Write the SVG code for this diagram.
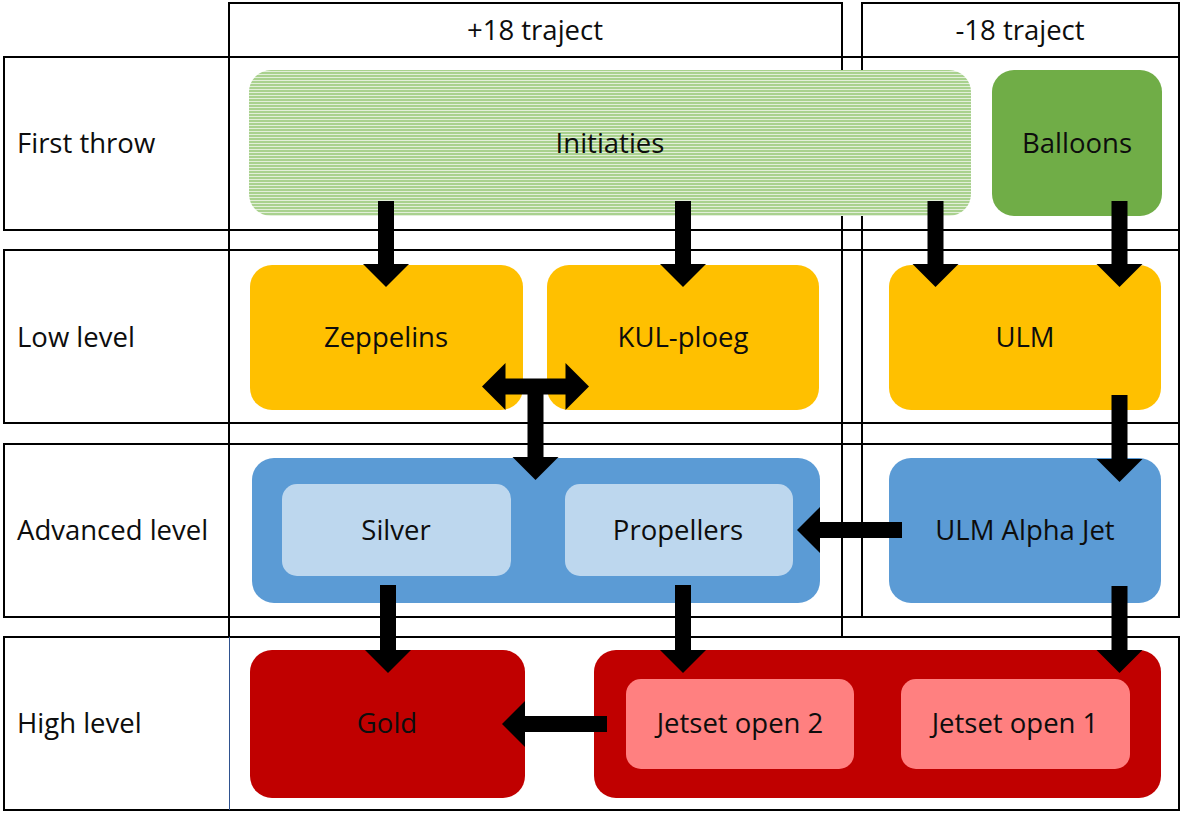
<svg xmlns="http://www.w3.org/2000/svg" width="1183" height="814" viewBox="0 0 1183 814">
<defs>
<pattern id="stripes" x="0" y="0" width="8" height="3" patternUnits="userSpaceOnUse">
<rect x="0" y="0" width="8" height="3" fill="#E2EFD9"/>
<rect x="0" y="0" width="8" height="2" fill="#A9D18E"/>
</pattern>
</defs>
<style>
.grid{fill:none;stroke:#000;stroke-width:2}
.lbl{font-family:"Open Sans","Noto Sans","Liberation Sans",sans-serif;font-size:27.5px;fill:#0d0d0d}
.c{text-anchor:middle}
.arrow{fill:#000}
</style>
<rect width="1183" height="814" fill="#fff"/>
<g id="grid">
<rect class="grid" x="4" y="57" width="1175" height="173"/>
<rect class="grid" x="4" y="250" width="1175" height="173"/>
<rect class="grid" x="4" y="444" width="1175" height="173"/>
<rect class="grid" x="4" y="637" width="1175" height="173"/>
<rect class="grid" x="229" y="3" width="613" height="634"/>
<line class="grid" x1="229" y1="57" x2="842" y2="57"/>
<rect class="grid" x="862" y="3" width="317" height="614"/>
<line class="grid" x1="862" y1="57" x2="1179" y2="57"/>
<line x1="229.5" y1="637" x2="229.5" y2="810" stroke="#2F528F" stroke-width="1"/>
<text class="lbl c" x="535" y="40">+18 traject</text>
<text class="lbl c" x="1020" y="40">-18 traject</text>
<text class="lbl" x="17" y="153">First throw</text>
<text class="lbl" x="17" y="347">Low level</text>
<text class="lbl" x="17" y="540">Advanced level</text>
<text class="lbl" x="17" y="733">High level</text>
</g>
<g id="initiaties">
<rect x="249" y="70" width="722" height="146" rx="22" fill="url(#stripes)"/>
<text class="lbl c" x="610" y="153">Initiaties</text>
</g>
<g id="balloons">
<rect x="992" y="70" width="170" height="146" rx="22" fill="#70AD47"/>
<text class="lbl c" x="1077" y="153">Balloons</text>
</g>
<g id="zeppelins">
<rect x="250" y="265" width="273" height="145" rx="22" fill="#FFC000"/>
<text class="lbl c" x="386" y="347">Zeppelins</text>
</g>
<g id="kul-ploeg">
<rect x="547" y="265" width="272" height="145" rx="22" fill="#FFC000"/>
<text class="lbl c" x="683" y="347">KUL-ploeg</text>
</g>
<g id="ulm">
<rect x="889" y="265" width="272" height="145" rx="22" fill="#FFC000"/>
<text class="lbl c" x="1025" y="347">ULM</text>
</g>
<g id="advanced-group">
<rect x="252" y="458" width="568" height="145" rx="22" fill="#5B9BD5"/>
</g>
<g id="silver">
<rect x="282" y="484" width="229" height="92" rx="15" fill="#BDD7EE"/>
<text class="lbl c" x="396" y="540">Silver</text>
</g>
<g id="propellers">
<rect x="565" y="484" width="228" height="92" rx="15" fill="#BDD7EE"/>
<text class="lbl c" x="678" y="540">Propellers</text>
</g>
<g id="ulm-alpha-jet">
<rect x="889" y="458" width="272" height="145" rx="22" fill="#5B9BD5"/>
<text class="lbl c" x="1025" y="540">ULM Alpha Jet</text>
</g>
<g id="gold">
<rect x="250" y="650" width="275" height="148" rx="22" fill="#C00000"/>
<text class="lbl c" x="387" y="733">Gold</text>
</g>
<g id="jetset-group">
<rect x="594" y="650" width="567" height="148" rx="22" fill="#C00000"/>
</g>
<g id="jetset-open-2">
<rect x="626" y="679" width="228" height="90" rx="15" fill="#FF8080"/>
<text class="lbl c" x="740" y="733">Jetset open 2</text>
</g>
<g id="jetset-open-1">
<rect x="901" y="679" width="229" height="90" rx="15" fill="#FF8080"/>
<text class="lbl c" x="1015" y="733">Jetset open 1</text>
</g>
<g id="connectors">
<polygon class="arrow" points="378,201 394,201 394,264 409,264 386,287 363,264 378,264"/>
<polygon class="arrow" points="675,201 691,201 691,264 706,264 683,287 660,264 675,264"/>
<polygon class="arrow" points="927.5,201 943.5,201 943.5,264 958.5,264 935.5,287 912.5,264 927.5,264"/>
<polygon class="arrow" points="1111.5,201 1127.5,201 1127.5,264 1142.5,264 1119.5,287 1096.5,264 1111.5,264"/>
<polygon class="arrow" points="1111.5,395 1127.5,395 1127.5,459 1142.5,459 1119.5,482 1096.5,459 1111.5,459"/>
<polygon class="arrow" points="1111.5,586 1127.5,586 1127.5,650 1142.5,650 1119.5,673 1096.5,650 1111.5,650"/>
<polygon class="arrow" points="380,585 396,585 396,650 411,650 388,673 365,650 380,650"/>
<polygon class="arrow" points="675,585 691,585 691,650 706,650 683,673 660,650 675,650"/>
<polygon class="arrow" points="902,522 902,538 820,538 820,553 797,530 820,507 820,522"/>
<polygon class="arrow" points="607,716 607,732 525,732 525,747 502,724 525,701 525,716"/>
<polygon class="arrow" points="482,386.5 505.5,363 505.5,378.5 565.5,378.5 565.5,363 589,386.5 565.5,410 565.5,394.5 543.5,394.5 543.5,457 558.5,457 535.5,480 512.5,457 527.5,457 527.5,394.5 505.5,394.5 505.5,410"/>
</g>
</svg>
